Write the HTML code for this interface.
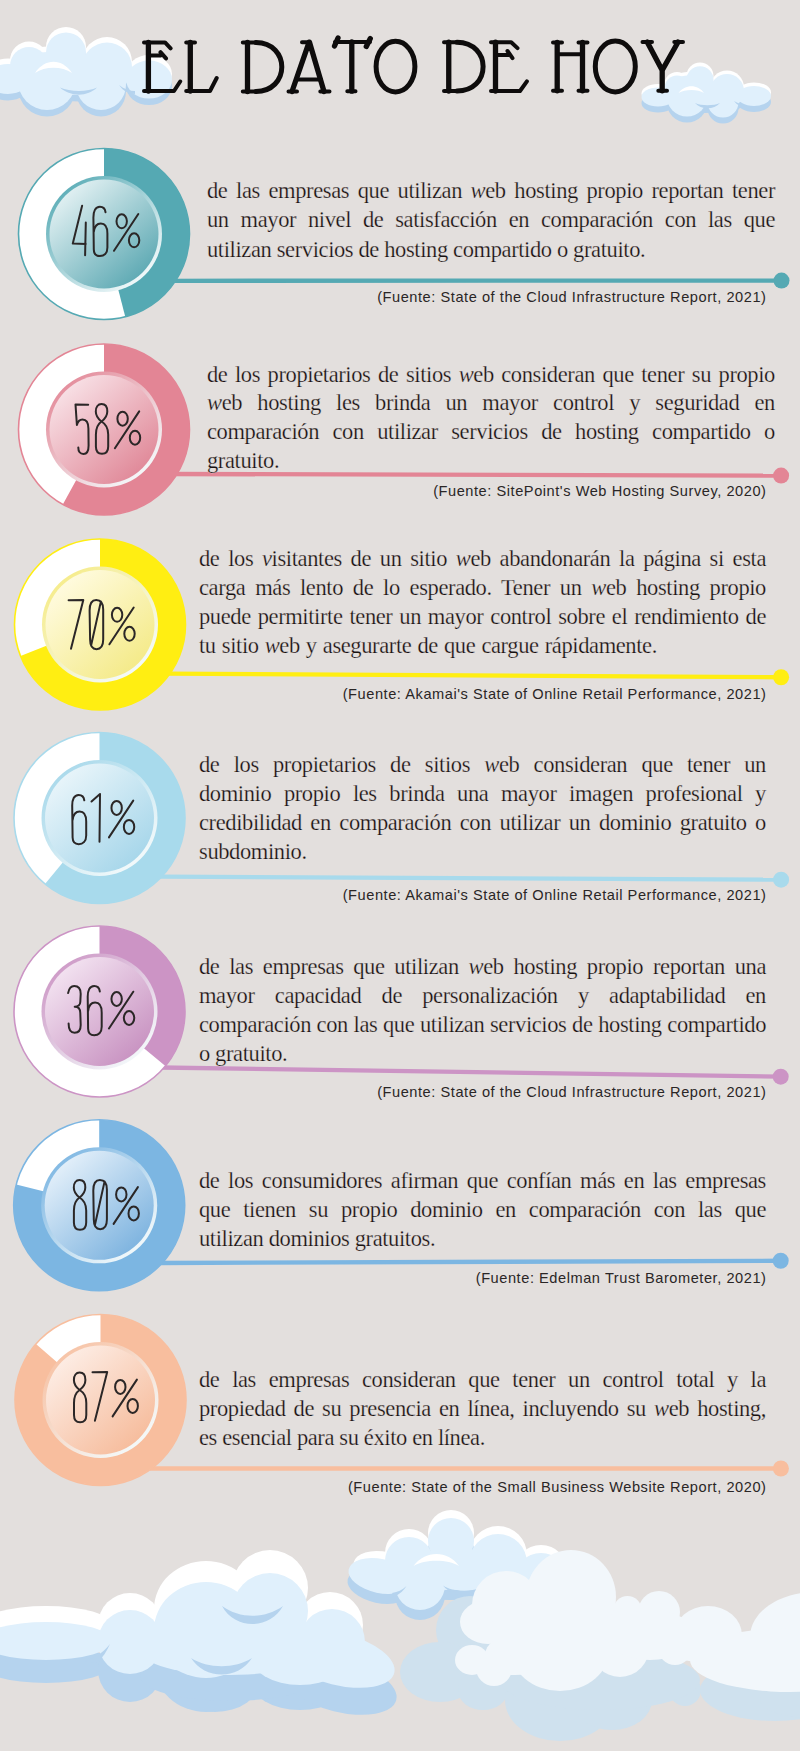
<!DOCTYPE html>
<html><head><meta charset="utf-8"><title>El dato de hoy</title>
<style>
html,body{margin:0;padding:0;}
body{width:800px;height:1751px;background:#E3DFDD;position:relative;overflow:hidden;}
svg{position:absolute;left:0;top:0;}
.t{position:absolute;font-family:"Liberation Serif",serif;font-size:22.5px;line-height:29px;letter-spacing:-0.38px;color:#161212;-webkit-text-stroke:0.25px #E3DFDD;white-space:nowrap;}
.j{text-align:justify;text-align-last:justify;}
.t i{font-style:italic;}
.s{position:absolute;font-family:"Liberation Sans",sans-serif;font-size:14.6px;line-height:20px;letter-spacing:0.55px;color:#2A2626;white-space:nowrap;text-align:right;}
.title{position:absolute;}
</style></head><body>

<svg width="800" height="1751" viewBox="0 0 800 1751">
<defs><g id="ctl"><ellipse cx="8" cy="79" rx="22" ry="15"/><ellipse cx="29" cy="66" rx="19" ry="19"/><ellipse cx="66" cy="52.4" rx="20" ry="20"/><ellipse cx="107" cy="67.5" rx="25" ry="25"/><ellipse cx="149" cy="79.6" rx="23" ry="19"/><ellipse cx="47" cy="81" rx="29" ry="29"/><ellipse cx="101" cy="85" rx="25" ry="25"/><ellipse cx="80" cy="75" rx="40" ry="20"/></g><g id="ctr"><ellipse cx="658" cy="97" rx="16.5" ry="9.5"/><ellipse cx="677" cy="88" rx="12.5" ry="12.5"/><ellipse cx="700" cy="79.7" rx="13.5" ry="13.5"/><ellipse cx="727" cy="91" rx="17" ry="17"/><ellipse cx="754" cy="96" rx="17" ry="10"/><ellipse cx="687" cy="96" rx="20.5" ry="20.5"/><ellipse cx="723" cy="102" rx="15.5" ry="15.5"/><ellipse cx="705" cy="95" rx="35" ry="12"/></g><g id="cmid"><ellipse cx="409" cy="1561" rx="24" ry="24"/><ellipse cx="451" cy="1541" rx="23" ry="23"/><ellipse cx="498" cy="1563" rx="29" ry="29"/><ellipse cx="541" cy="1580" rx="27" ry="27"/><ellipse cx="420" cy="1585" rx="25" ry="25"/><ellipse cx="466" cy="1570" rx="30" ry="21"/><ellipse cx="450" cy="1570" rx="60" ry="20"/></g></defs>
<use href="#ctl" fill="#FFFFFF" transform="translate(0,-5.5)"/><use href="#ctl" fill="#B5D3EE" transform="translate(0,6.5)"/><use href="#ctl" fill="#E0F0FC"/><path d="M35,73 C45,58 62,58 72,73 C62,66 45,66 35,73 Z" fill="#FFFFFF"/><path d="M60,87.5 C70,97 88,97 97,87.5 C88,92 70,92 60,87.5 Z" fill="#B5D3EE"/><path d="M119,85 C123,91 129,94 135,94 L135,91 C130,91 124,89 119,85 Z" fill="#B5D3EE"/>
<use href="#ctr" fill="#FFFFFF" transform="translate(0,-3.6)"/><use href="#ctr" fill="#B5D3EE" transform="translate(0,6)"/><use href="#ctr" fill="#E0F0FC"/><path d="M678.5,93 C685,84 698,84 704,93 C698,89 685,89 678.5,93 Z" fill="#FFFFFF"/><path d="M695,103 C701,110 714,110 720,103 C714,106 701,106 695,103 Z" fill="#B5D3EE"/><path d="M734,101 C737,105 741,107 744,107.6 L744,105 C741,104 737,103 734,101 Z" fill="#B5D3EE"/>
<g fill="none" stroke="#0E0C0C" stroke-linecap="round" stroke-linejoin="round"><path stroke-width="4.0" d="M144,42.4 L165,42.4 L170.6,48.3 M144,91 L174,91 L180.2,81.5 M148.4,55.6 L160.5,55.6 M160.5,52.2 L166,58.4 M186.2,42.4 L195,42.4 M186.2,91 L210,91 L216.7,78 M242.8,42.5 L256,42.5 M242.8,91.5 L256,91.5 M302,42.3 L309.5,42.3 M288.5,91.5 L297,91.5 M320.3,91.5 L329.5,91.5 M297,79.5 L321,79.5 M335,42 L370,42 M347.3,91.2 L355.5,91.2 M444,42.2 L457,42.2 M444,91 L457,91 M491,42.2 L511.2,42.2 L517.5,48.1 M491,91 L520,91 L526.9,81.3 M495.5,55 L507.5,55 M507.5,51 L512.5,58.1 M553,42.5 L562,42.5 M578.5,42.5 L587.5,42.5 M553,90.8 L562,90.8 M578.5,90.8 L587.5,90.8 M557.2,54.2 L582.5,54.2 M642.5,42 L652,42 M674.3,42 L683,42 M658.3,90.8 L667,90.8"/><path stroke-width="5.3" d="M148.4,42.4 L148.4,91 M190.3,42.4 L190.3,91 M247.5,42.5 L247.5,91.5 M309,42.3 L292,91.5 M309.5,42.3 L324,91.5 M338,38 L334.5,46 M370.3,38.5 L366.3,46.5 M351.8,42 L351.8,91.2 M448.75,42.2 L448.75,91 M495.5,42.2 L495.5,91 M557.2,42.5 L557.2,90.8 M582.5,42.5 L582.5,90.8 M647.2,42 L662.2,70.3 L678.1,42 M662.2,70.3 L662.2,90.8"/><path stroke-width="5.0" d="M256,42.5 C273,42.5 281.8,55 281.8,67 C281.8,80 272,91.5 256,91.5 M457,42.2 C474.5,42.2 483.1,55 483.1,66.5 C483.1,80 473.5,91 457,91 "/><ellipse stroke-width="5.0" cx="395.5" cy="66.6" rx="19.4" ry="25.3"/><ellipse stroke-width="5.0" cx="615.3" cy="66.5" rx="20" ry="25.4"/></g>
<line x1="170" y1="280.8" x2="781.5" y2="280.6" stroke="#55A9B3" stroke-width="4.3"/><circle cx="781.5" cy="280.6" r="8" fill="#55A9B3"/>
<linearGradient id="gi0" x1="0.15" y1="0.1" x2="0.85" y2="0.9"><stop offset="0" stop-color="#E3F1F3"/><stop offset="1" stop-color="#5DA9B3"/></linearGradient>
<linearGradient id="gr0" x1="0.15" y1="0.1" x2="0.85" y2="0.9"><stop offset="0" stop-color="#5EAEB8"/><stop offset="1" stop-color="#F4FAFB"/></linearGradient>
<circle cx="104" cy="234" r="85.5" fill="#FFFFFF" stroke="#55A9B3" stroke-width="1.6"/>
<path d="M104,234 L104,148.5 A85.5,85.5 0 0 1 125.26,316.81 Z" fill="#55A9B3"/>
<circle cx="104" cy="234" r="58" fill="url(#gr0)"/>
<circle cx="104" cy="234" r="54.5" fill="url(#gi0)"/>
<g transform="translate(72.5,205.5)" fill="none" stroke="#2B2727" stroke-width="2" stroke-linecap="round" stroke-linejoin="round"><path d="M9.6,0.3 L0.3,38.1 L13.3,38.5 M13.3,17 L12.6,49.8"/></g>
<g transform="translate(93,205.5)" fill="none" stroke="#2B2727" stroke-width="2" stroke-linecap="round" stroke-linejoin="round"><path d="M12.5,6.7 C12,2.5 9.5,1.3 6.9,1.3 C2.2,1.3 0.4,6 0.4,12 L0.8,44 C0.9,49 3.5,50.6 6.9,50.6 C11,50.6 14.4,48 14.4,42 L14.4,28 C14.4,21 11.5,17.9 7.8,17.9 C4,17.9 1.5,21 0.8,26.4"/></g>
<g transform="translate(113.3,206)" fill="none" stroke="#2B2727" stroke-width="2" stroke-linecap="round" stroke-linejoin="round"><ellipse cx="8.4" cy="15.3" rx="5.2" ry="7"/><ellipse cx="20.8" cy="34.3" rx="5.2" ry="7"/><path d="M25,8 L0.7,44.8"/></g>
<line x1="170" y1="474" x2="781.1" y2="475.6" stroke="#E38595" stroke-width="4.3"/><circle cx="781.1" cy="475.6" r="8" fill="#E38595"/>
<linearGradient id="gi1" x1="0.15" y1="0.1" x2="0.85" y2="0.9"><stop offset="0" stop-color="#F8E1E6"/><stop offset="1" stop-color="#E08898"/></linearGradient>
<linearGradient id="gr1" x1="0.15" y1="0.1" x2="0.85" y2="0.9"><stop offset="0" stop-color="#E48C9B"/><stop offset="1" stop-color="#F4FAFB"/></linearGradient>
<circle cx="104" cy="429.5" r="85.5" fill="#FFFFFF" stroke="#E38595" stroke-width="1.6"/>
<path d="M104,429.5 L104,344.0 A85.5,85.5 0 1 1 62.81,504.42 Z" fill="#E38595"/>
<circle cx="104" cy="429.5" r="58" fill="url(#gr1)"/>
<circle cx="104" cy="429.5" r="54.5" fill="url(#gi1)"/>
<g transform="translate(75,403.5)" fill="none" stroke="#2B2727" stroke-width="2" stroke-linecap="round" stroke-linejoin="round"><path d="M13.2,1.3 L0.5,0.9 L1.9,21.5 C3,17 5.5,15.9 7.5,15.9 C11.5,15.9 13.4,19 13.4,25 L13.6,42 C13.6,48 11.5,50.5 8.5,50.5 C5,50.5 3.3,48 3.3,44"/></g>
<g transform="translate(95,403.5)" fill="none" stroke="#2B2727" stroke-width="2" stroke-linecap="round" stroke-linejoin="round"><path d="M6.5,18 C10.5,15 12.3,11.5 12.3,8 C12.3,3.2 10,0.6 6.5,0.6 C3,0.6 0.8,3.2 0.8,8 C0.8,12 3,15.3 6.5,18 C10.8,20.5 13.2,25 13.2,31 L13.2,43 C13.2,48 11,50.3 7,50.3 C3,50.3 0.9,48 0.9,43 L0.9,31 C0.9,25 2.8,20.5 6.5,18 Z"/></g>
<g transform="translate(114.2,403.4)" fill="none" stroke="#2B2727" stroke-width="2" stroke-linecap="round" stroke-linejoin="round"><ellipse cx="8.4" cy="15.3" rx="5.2" ry="7"/><ellipse cx="20.8" cy="34.3" rx="5.2" ry="7"/><path d="M25,8 L0.7,44.8"/></g>
<line x1="165" y1="673.7" x2="781.1" y2="677.25" stroke="#FFEE12" stroke-width="4.3"/><circle cx="781.1" cy="677.25" r="8" fill="#FFEE12"/>
<linearGradient id="gi2" x1="0.15" y1="0.1" x2="0.85" y2="0.9"><stop offset="0" stop-color="#FFFBE0"/><stop offset="1" stop-color="#F4EA88"/></linearGradient>
<linearGradient id="gr2" x1="0.15" y1="0.1" x2="0.85" y2="0.9"><stop offset="0" stop-color="#F6EC8A"/><stop offset="1" stop-color="#F4FAFB"/></linearGradient>
<circle cx="100" cy="624.5" r="85.5" fill="#FFFFFF" stroke="#FFEE12" stroke-width="1.6"/>
<path d="M100,624.5 L100,539.0 A85.5,85.5 0 1 1 20.50,655.97 Z" fill="#FFEE12"/>
<circle cx="100" cy="624.5" r="58" fill="url(#gr2)"/>
<circle cx="100" cy="624.5" r="54.5" fill="url(#gi2)"/>
<g transform="translate(68.5,600)" fill="none" stroke="#2B2727" stroke-width="2" stroke-linecap="round" stroke-linejoin="round"><path d="M0.1,0.3 L14.8,0 L2.5,48.8"/></g>
<g transform="translate(89.2,599.6)" fill="none" stroke="#2B2727" stroke-width="2" stroke-linecap="round" stroke-linejoin="round"><path d="M7,0.4 C11.8,0.4 14,3.5 14,10 L14,40 C14,46.5 11.3,49.6 7.3,49.6 C3,49.6 0.9,46.5 0.9,40 L0.4,11 C0.4,4 2.8,0.4 7,0.4 Z M11.7,1.8 L1.9,45.9"/></g>
<g transform="translate(108.7,599.5)" fill="none" stroke="#2B2727" stroke-width="2" stroke-linecap="round" stroke-linejoin="round"><ellipse cx="8.4" cy="15.3" rx="5.2" ry="7"/><ellipse cx="20.8" cy="34.3" rx="5.2" ry="7"/><path d="M25,8 L0.7,44.8"/></g>
<line x1="160" y1="876.7" x2="781.1" y2="879.65" stroke="#A8DAEC" stroke-width="4.3"/><circle cx="781.1" cy="879.65" r="8" fill="#A8DAEC"/>
<linearGradient id="gi3" x1="0.15" y1="0.1" x2="0.85" y2="0.9"><stop offset="0" stop-color="#E9F5FA"/><stop offset="1" stop-color="#A6D6EA"/></linearGradient>
<linearGradient id="gr3" x1="0.15" y1="0.1" x2="0.85" y2="0.9"><stop offset="0" stop-color="#A9D9EB"/><stop offset="1" stop-color="#F4FAFB"/></linearGradient>
<circle cx="99.5" cy="818" r="85.5" fill="#FFFFFF" stroke="#A8DAEC" stroke-width="1.6"/>
<path d="M99.5,818 L99.5,732.5 A85.5,85.5 0 1 1 45.00,883.88 Z" fill="#A8DAEC"/>
<circle cx="99.5" cy="818" r="58" fill="url(#gr3)"/>
<circle cx="99.5" cy="818" r="54.5" fill="url(#gi3)"/>
<g transform="translate(71.8,793.6)" fill="none" stroke="#2B2727" stroke-width="2" stroke-linecap="round" stroke-linejoin="round"><path d="M12.5,6.7 C12,2.5 9.5,1.3 6.9,1.3 C2.2,1.3 0.4,6 0.4,12 L0.8,44 C0.9,49 3.5,50.6 6.9,50.6 C11,50.6 14.4,48 14.4,42 L14.4,28 C14.4,21 11.5,17.9 7.8,17.9 C4,17.9 1.5,21 0.8,26.4"/></g>
<g transform="translate(91.5,793.5)" fill="none" stroke="#2B2727" stroke-width="2" stroke-linecap="round" stroke-linejoin="round"><path d="M0,8 L8.5,0.5 L8,48.3"/></g>
<g transform="translate(108.25,792.6)" fill="none" stroke="#2B2727" stroke-width="2" stroke-linecap="round" stroke-linejoin="round"><ellipse cx="8.4" cy="15.3" rx="5.2" ry="7"/><ellipse cx="20.8" cy="34.3" rx="5.2" ry="7"/><path d="M25,8 L0.7,44.8"/></g>
<line x1="160" y1="1067.5" x2="780.7" y2="1076.65" stroke="#CC94C5" stroke-width="4.3"/><circle cx="780.7" cy="1076.65" r="8" fill="#CC94C5"/>
<linearGradient id="gi4" x1="0.15" y1="0.1" x2="0.85" y2="0.9"><stop offset="0" stop-color="#F3E3F1"/><stop offset="1" stop-color="#C892C1"/></linearGradient>
<linearGradient id="gr4" x1="0.15" y1="0.1" x2="0.85" y2="0.9"><stop offset="0" stop-color="#CE9AC7"/><stop offset="1" stop-color="#F4FAFB"/></linearGradient>
<circle cx="99.5" cy="1011.5" r="85.5" fill="#FFFFFF" stroke="#CC94C5" stroke-width="1.6"/>
<path d="M99.5,1011.5 L99.5,926.0 A85.5,85.5 0 0 1 165.38,1066.00 Z" fill="#CC94C5"/>
<circle cx="99.5" cy="1011.5" r="58" fill="url(#gr4)"/>
<circle cx="99.5" cy="1011.5" r="54.5" fill="url(#gi4)"/>
<g transform="translate(67.6,985)" fill="none" stroke="#2B2727" stroke-width="2" stroke-linecap="round" stroke-linejoin="round"><path d="M0.5,8.1 C1.5,3 4,1.1 6.6,1.1 C11,1.1 13.1,4 13.1,9 L12.7,17 C12.5,20 10,21.7 7.1,21.7 C10,21.7 12.7,23.5 12.7,28 L13.1,40 C13.1,45 11,47.8 7,47.8 C3,47.8 1,45 1,38.6"/></g>
<g transform="translate(87.3,984.7)" fill="none" stroke="#2B2727" stroke-width="2" stroke-linecap="round" stroke-linejoin="round"><path d="M12.5,6.7 C12,2.5 9.5,1.3 6.9,1.3 C2.2,1.3 0.4,6 0.4,12 L0.8,44 C0.9,49 3.5,50.6 6.9,50.6 C11,50.6 14.4,48 14.4,42 L14.4,28 C14.4,21 11.5,17.9 7.8,17.9 C4,17.9 1.5,21 0.8,26.4"/></g>
<g transform="translate(108.25,983.7)" fill="none" stroke="#2B2727" stroke-width="2" stroke-linecap="round" stroke-linejoin="round"><ellipse cx="8.4" cy="15.3" rx="5.2" ry="7"/><ellipse cx="20.8" cy="34.3" rx="5.2" ry="7"/><path d="M25,8 L0.7,44.8"/></g>
<line x1="160" y1="1263" x2="780.7" y2="1260.75" stroke="#7CB6E2" stroke-width="4.3"/><circle cx="780.7" cy="1260.75" r="8" fill="#7CB6E2"/>
<linearGradient id="gi5" x1="0.15" y1="0.1" x2="0.85" y2="0.9"><stop offset="0" stop-color="#E4F0FA"/><stop offset="1" stop-color="#7DB3DF"/></linearGradient>
<linearGradient id="gr5" x1="0.15" y1="0.1" x2="0.85" y2="0.9"><stop offset="0" stop-color="#80B8E3"/><stop offset="1" stop-color="#F4FAFB"/></linearGradient>
<circle cx="99.2" cy="1205.3" r="85.5" fill="#FFFFFF" stroke="#7CB6E2" stroke-width="1.6"/>
<path d="M99.2,1205.3 L99.2,1119.8 A85.5,85.5 0 1 1 16.24,1184.62 Z" fill="#7CB6E2"/>
<circle cx="99.2" cy="1205.3" r="58" fill="url(#gr5)"/>
<circle cx="99.2" cy="1205.3" r="54.5" fill="url(#gi5)"/>
<g transform="translate(73,1179.5)" fill="none" stroke="#2B2727" stroke-width="2" stroke-linecap="round" stroke-linejoin="round"><path d="M6.5,18 C10.5,15 12.3,11.5 12.3,8 C12.3,3.2 10,0.6 6.5,0.6 C3,0.6 0.8,3.2 0.8,8 C0.8,12 3,15.3 6.5,18 C10.8,20.5 13.2,25 13.2,31 L13.2,43 C13.2,48 11,50.3 7,50.3 C3,50.3 0.9,48 0.9,43 L0.9,31 C0.9,25 2.8,20.5 6.5,18 Z"/></g>
<g transform="translate(92.9,1179.6)" fill="none" stroke="#2B2727" stroke-width="2" stroke-linecap="round" stroke-linejoin="round"><path d="M7,0.4 C11.8,0.4 14,3.5 14,10 L14,40 C14,46.5 11.3,49.6 7.3,49.6 C3,49.6 0.9,46.5 0.9,40 L0.4,11 C0.4,4 2.8,0.4 7,0.4 Z M11.7,1.8 L1.9,45.9"/></g>
<g transform="translate(112.9,1179.1)" fill="none" stroke="#2B2727" stroke-width="2" stroke-linecap="round" stroke-linejoin="round"><ellipse cx="8.4" cy="15.3" rx="5.2" ry="7"/><ellipse cx="20.8" cy="34.3" rx="5.2" ry="7"/><path d="M25,8 L0.7,44.8"/></g>
<line x1="150" y1="1468.5" x2="780.9" y2="1468.5" stroke="#F8BE9E" stroke-width="4.3"/><circle cx="780.9" cy="1468.5" r="8" fill="#F8BE9E"/>
<linearGradient id="gi6" x1="0.15" y1="0.1" x2="0.85" y2="0.9"><stop offset="0" stop-color="#FDEDE5"/><stop offset="1" stop-color="#F6BC9C"/></linearGradient>
<linearGradient id="gr6" x1="0.15" y1="0.1" x2="0.85" y2="0.9"><stop offset="0" stop-color="#F7C3A6"/><stop offset="1" stop-color="#F4FAFB"/></linearGradient>
<circle cx="100.5" cy="1400" r="85.5" fill="#FFFFFF" stroke="#F8BE9E" stroke-width="1.6"/>
<path d="M100.5,1400 L100.5,1314.5 A85.5,85.5 0 1 1 35.97,1343.91 Z" fill="#F8BE9E"/>
<circle cx="100.5" cy="1400" r="58" fill="url(#gr6)"/>
<circle cx="100.5" cy="1400" r="54.5" fill="url(#gi6)"/>
<g transform="translate(73.1,1372)" fill="none" stroke="#2B2727" stroke-width="2" stroke-linecap="round" stroke-linejoin="round"><path d="M6.5,18 C10.5,15 12.3,11.5 12.3,8 C12.3,3.2 10,0.6 6.5,0.6 C3,0.6 0.8,3.2 0.8,8 C0.8,12 3,15.3 6.5,18 C10.8,20.5 13.2,25 13.2,31 L13.2,43 C13.2,48 11,50.3 7,50.3 C3,50.3 0.9,48 0.9,43 L0.9,31 C0.9,25 2.8,20.5 6.5,18 Z"/></g>
<g transform="translate(92.4,1372)" fill="none" stroke="#2B2727" stroke-width="2" stroke-linecap="round" stroke-linejoin="round"><path d="M0.1,0.3 L14.8,0 L2.5,48.8"/></g>
<g transform="translate(111.9,1371.6)" fill="none" stroke="#2B2727" stroke-width="2" stroke-linecap="round" stroke-linejoin="round"><ellipse cx="8.4" cy="15.3" rx="5.2" ry="7"/><ellipse cx="20.8" cy="34.3" rx="5.2" ry="7"/><path d="M25,8 L0.7,44.8"/></g>
<ellipse cx="385" cy="1569" rx="32" ry="17" transform="rotate(12 385 1569)" fill="#FFFFFF"/><ellipse cx="379" cy="1586" rx="32" ry="17" transform="rotate(12 379 1586)" fill="#B5D3EE"/><use href="#cmid" fill="#FFFFFF" transform="translate(0,-8)"/><use href="#cmid" fill="#B5D3EE" transform="translate(0,10)"/><ellipse cx="380" cy="1576" rx="32" ry="17" transform="rotate(12 380 1576)" fill="#E0F0FC"/><use href="#cmid" fill="#E0F0FC"/><path d="M413.5,1566 C425,1550 448,1550 459,1566 C448,1559 425,1559 413.5,1566 Z" fill="#FFFFFF"/><path d="M443,1585.5 C452,1597 470,1598 480,1592 L480,1588 C470,1592 452,1592 443,1585.5 Z" fill="#B5D3EE"/><path d="M394,1597 C400,1594 404,1590 406.5,1586 C402,1590 398,1592 392,1593 Z" fill="#B5D3EE"/>
<ellipse cx="470" cy="1630" rx="34" ry="34" fill="#CFE1EE"/><ellipse cx="440" cy="1672" rx="40" ry="30" fill="#CFE1EE"/><ellipse cx="483" cy="1690" rx="25" ry="20" fill="#CFE1EE"/><ellipse cx="560" cy="1700" rx="55" ry="41" fill="#CFE1EE"/><ellipse cx="612" cy="1700" rx="40" ry="30" fill="#CFE1EE"/><ellipse cx="685" cy="1690" rx="16" ry="16" fill="#CFE1EE"/><ellipse cx="775" cy="1690" rx="75" ry="31" fill="#CFE1EE"/><ellipse cx="600" cy="1680" rx="100" ry="30" fill="#CFE1EE"/><ellipse cx="830" cy="1700" rx="70" ry="20" fill="#CFE1EE"/><ellipse cx="571" cy="1597" rx="45" ry="47" fill="#F2F7FB"/><ellipse cx="506" cy="1605" rx="34" ry="34" fill="#F2F7FB"/><ellipse cx="488" cy="1622" rx="28" ry="22" fill="#F2F7FB"/><ellipse cx="472" cy="1660" rx="17" ry="15" fill="#F2F7FB"/><ellipse cx="494" cy="1668" rx="18" ry="18" fill="#F2F7FB"/><ellipse cx="515" cy="1655" rx="30" ry="20" fill="#F2F7FB"/><ellipse cx="560" cy="1648" rx="50" ry="43" fill="#F2F7FB"/><ellipse cx="560" cy="1630" rx="70" ry="30" fill="#F2F7FB"/><ellipse cx="627.5" cy="1610" rx="14" ry="14" fill="#F2F7FB"/><ellipse cx="659" cy="1612" rx="21" ry="21" fill="#F2F7FB"/><ellipse cx="620" cy="1645" rx="30" ry="32" fill="#F2F7FB"/><ellipse cx="675" cy="1648" rx="17" ry="17" fill="#F2F7FB"/><ellipse cx="708" cy="1635" rx="34" ry="29" fill="#F2F7FB"/><ellipse cx="815" cy="1637" rx="65" ry="45" fill="#F2F7FB"/><ellipse cx="790" cy="1660" rx="100" ry="32" fill="#F2F7FB"/><ellipse cx="650" cy="1635" rx="45" ry="25" fill="#F2F7FB"/><ellipse cx="700" cy="1640" rx="40" ry="22" fill="#F2F7FB"/>
<ellipse cx="215" cy="1680" rx="45" ry="32" fill="#B5D3EE"/><ellipse cx="46" cy="1625" rx="66" ry="19" fill="#FFFFFF"/><ellipse cx="130" cy="1625" rx="32" ry="32" fill="#FFFFFF"/><ellipse cx="206" cy="1609" rx="52" ry="48" fill="#FFFFFF"/><ellipse cx="270" cy="1588" rx="38" ry="38" fill="#FFFFFF"/><ellipse cx="330" cy="1625" rx="33" ry="33" fill="#FFFFFF"/><ellipse cx="46" cy="1664" rx="66" ry="19" fill="#B5D3EE"/><ellipse cx="130" cy="1670" rx="32" ry="32" fill="#B5D3EE"/><ellipse cx="206" cy="1664" rx="52" ry="48" fill="#B5D3EE"/><ellipse cx="270" cy="1640" rx="38" ry="38" fill="#B5D3EE"/><ellipse cx="300" cy="1680" rx="50" ry="30" fill="#B5D3EE"/><ellipse cx="230" cy="1676" rx="90" ry="25" fill="#B5D3EE"/><ellipse cx="340" cy="1686" rx="58" ry="26" transform="rotate(14 340 1686)" fill="#B5D3EE"/><ellipse cx="46" cy="1641" rx="66" ry="19" fill="#E0F0FC"/><ellipse cx="130" cy="1642" rx="32" ry="32" fill="#E0F0FC"/><ellipse cx="206" cy="1630" rx="52" ry="48" fill="#E0F0FC"/><ellipse cx="270" cy="1611" rx="38" ry="38" fill="#E0F0FC"/><ellipse cx="332" cy="1642" rx="33" ry="33" fill="#E0F0FC"/><ellipse cx="300" cy="1655" rx="50" ry="30" fill="#E0F0FC"/><ellipse cx="230" cy="1650" rx="90" ry="25" fill="#E0F0FC"/><ellipse cx="338" cy="1659" rx="58" ry="26" transform="rotate(14 338 1659)" fill="#E0F0FC"/><path d="M222,1606 C235,1630 270,1630 283,1606 C265,1619 240,1619 222,1606 Z" fill="#B5D3EE"/><path d="M191,1658 C205,1680 238,1680 252,1658 C235,1669 208,1669 191,1658 Z" fill="#B5D3EE"/><path d="M110,1644 C102,1654 94,1658 85,1661 L97,1663 C103,1657 107,1651 110,1644 Z" fill="#B5D3EE"/>
</svg>
<div class="t j" style="left:207px;top:176.1px;width:568px">de las empresas que utilizan <i>w</i>eb hosting propio reportan tener</div>
<div class="t j" style="left:207px;top:205.3px;width:568px">un mayor nivel de satisfacción en comparación con las que</div>
<div class="t" style="left:207px;top:234.5px;width:568px">utilizan servicios de hosting compartido o gratuito.</div>
<div class="s" style="right:33.5px;top:287.4px">(Fuente: State of the Cloud Infrastructure Report, 2021)</div>
<div class="t j" style="left:207px;top:359.6px;width:568px">de los propietarios de sitios <i>w</i>eb consideran que tener su propio</div>
<div class="t j" style="left:207px;top:388.3px;width:568px"><i>w</i>eb hosting les brinda un mayor control y seguridad en</div>
<div class="t j" style="left:207px;top:417.0px;width:568px">comparación con utilizar servicios de hosting compartido o</div>
<div class="t" style="left:207px;top:445.7px;width:568px">gratuito.</div>
<div class="s" style="right:33.5px;top:480.9px">(Fuente: SitePoint's Web Hosting Survey, 2020)</div>
<div class="t j" style="left:199px;top:544.0px;width:567px">de los <i>v</i>isitantes de un sitio <i>w</i>eb abandonarán la página si esta</div>
<div class="t j" style="left:199px;top:573.0px;width:567px">carga más lento de lo esperado. Tener un <i>w</i>eb hosting propio</div>
<div class="t j" style="left:199px;top:602.0px;width:567px">puede permitirte tener un mayor control sobre el rendimiento de</div>
<div class="t" style="left:199px;top:631.0px;width:567px"><span style="word-spacing:0.8px">tu sitio <i>w</i>eb y asegurarte de que cargue rápidamente.</span></div>
<div class="s" style="right:33.5px;top:683.6px">(Fuente: Akamai's State of Online Retail Performance, 2021)</div>
<div class="t j" style="left:199px;top:750.1px;width:567px">de los propietarios de sitios <i>w</i>eb consideran que tener un</div>
<div class="t j" style="left:199px;top:779.0px;width:567px">dominio propio les brinda una mayor imagen profesional y</div>
<div class="t j" style="left:199px;top:807.9px;width:567px">credibilidad en comparación con utilizar un dominio gratuito o</div>
<div class="t" style="left:199px;top:836.8px;width:567px">subdominio.</div>
<div class="s" style="right:33.5px;top:885.0px">(Fuente: Akamai's State of Online Retail Performance, 2021)</div>
<div class="t j" style="left:199px;top:951.6px;width:567px">de las empresas que utilizan <i>w</i>eb hosting propio reportan una</div>
<div class="t j" style="left:199px;top:980.6px;width:567px">mayor capacidad de personalización y adaptabilidad en</div>
<div class="t j" style="left:199px;top:1009.6px;width:567px">comparación con las que utilizan servicios de hosting compartido</div>
<div class="t" style="left:199px;top:1038.6px;width:567px">o gratuito.</div>
<div class="s" style="right:33.5px;top:1081.5px">(Fuente: State of the Cloud Infrastructure Report, 2021)</div>
<div class="t j" style="left:199px;top:1166.1px;width:567px">de los consumidores afirman que confían más en las empresas</div>
<div class="t j" style="left:199px;top:1195.1px;width:567px">que tienen su propio dominio en comparación con las que</div>
<div class="t" style="left:199px;top:1224.1px;width:567px">utilizan dominios gratuitos.</div>
<div class="s" style="right:33.5px;top:1268.0px">(Fuente: Edelman Trust Barometer, 2021)</div>
<div class="t j" style="left:199px;top:1365.4px;width:567px">de las empresas consideran que tener un control total y la</div>
<div class="t j" style="left:199px;top:1394.4px;width:567px">propiedad de su presencia en línea, incluyendo su <i>w</i>eb hosting,</div>
<div class="t" style="left:199px;top:1423.4px;width:567px">es esencial para su éxito en línea.</div>
<div class="s" style="right:33.5px;top:1477.0px">(Fuente: State of the Small Business Website Report, 2020)</div>
</body></html>
